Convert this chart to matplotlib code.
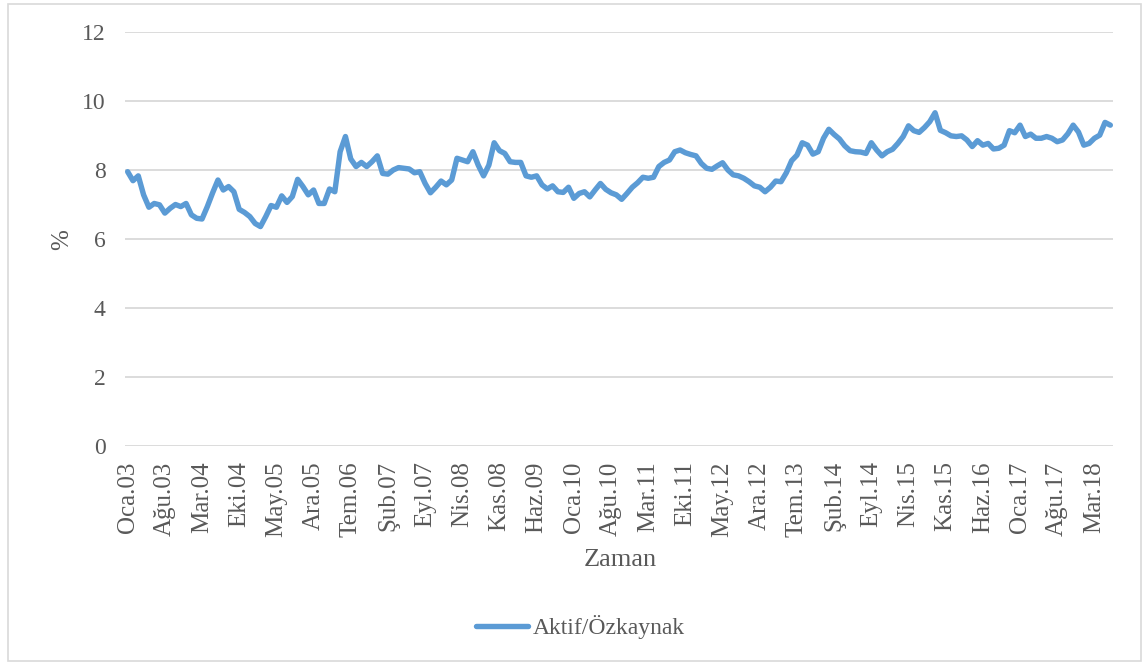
import matplotlib.pyplot as plt
from matplotlib.patches import Rectangle

# Monthly ratio, Oca.03 .. Haz.18
aylar = ["Oca", "Şub", "Mar", "Nis", "May", "Haz", "Tem", "Ağu", "Eyl", "Eki", "Kas", "Ara"]
aktif_ozkaynak = [
    7.95, 7.69, 7.83, 7.28, 6.92, 7.03, 6.99, 6.75, 6.89, 7.00, 6.94, 7.03,
    6.70, 6.60, 6.58, 6.94, 7.34, 7.71, 7.42, 7.52, 7.37, 6.86, 6.77, 6.65,
    6.45, 6.36, 6.65, 6.97, 6.92, 7.25, 7.06, 7.23, 7.73, 7.52, 7.28, 7.42,
    7.03, 7.03, 7.45, 7.37, 8.53, 8.97, 8.32, 8.10, 8.22, 8.10, 8.24, 8.41,
    7.90, 7.88, 8.00, 8.07, 8.05, 8.03, 7.92, 7.95, 7.61, 7.34, 7.50, 7.68,
    7.57, 7.71, 8.34, 8.29, 8.24, 8.53, 8.14, 7.83, 8.14, 8.79, 8.56, 8.48,
    8.24, 8.22, 8.22, 7.83, 7.79, 7.83, 7.57, 7.45, 7.54, 7.37, 7.35, 7.50,
    7.18, 7.32, 7.37, 7.22, 7.42, 7.61, 7.44, 7.34, 7.28, 7.15, 7.32, 7.50,
    7.63, 7.79, 7.76, 7.79, 8.10, 8.22, 8.29, 8.53, 8.58, 8.50, 8.45, 8.41,
    8.19, 8.05, 8.02, 8.12, 8.21, 8.00, 7.86, 7.83, 7.76, 7.66, 7.54, 7.50,
    7.37, 7.50, 7.68, 7.66, 7.92, 8.27, 8.43, 8.79, 8.72, 8.46, 8.53, 8.92,
    9.18, 9.03, 8.90, 8.70, 8.56, 8.53, 8.52, 8.48, 8.79, 8.58, 8.41, 8.53,
    8.60, 8.77, 8.97, 9.28, 9.14, 9.09, 9.23, 9.40, 9.66, 9.15, 9.08, 8.99,
    8.97, 8.99, 8.87, 8.68, 8.85, 8.72, 8.77, 8.61, 8.63, 8.72, 9.14, 9.08,
    9.30, 8.97, 9.04, 8.92, 8.92, 8.97, 8.92, 8.82, 8.87, 9.05, 9.30, 9.10,
    8.72, 8.77, 8.92, 9.01, 9.38, 9.30,
]
etiket_adimi = 7  # one label every 7 months
y_ticks = [0, 2, 4, 6, 8, 10, 12]

etiketler = [f"{aylar[i % 12]}.{(3 + i // 12):02d}" for i in range(len(aktif_ozkaynak))]
x = list(range(len(aktif_ozkaynak)))

plt.rcParams['font.family'] = ['Liberation Serif', 'DejaVu Serif']
gri = "#595959"

fig = plt.figure(figsize=(11.43, 6.64), dpi=100)
W, H = 1143, 664
ax = fig.add_axes([125 / W, (H - 446) / H, 988 / W, 414 / H])

# outer chart frame
fig.patches.append(Rectangle((8 / W, 3 / H), 1133 / W, 657 / H, transform=fig.transFigure,
                             fill=False, edgecolor="#D9D9D9", linewidth=1.2))

for y in y_ticks:
    ax.axhline(y, color="#D9D9D9", linewidth=1.3, zorder=1)

ax.plot(x, aktif_ozkaynak, color="#5B9BD5", linewidth=3.9, solid_capstyle='round',
        solid_joinstyle='round', label="Aktif/Özkaynak", zorder=3)

ax.set_xlim(-0.5, len(x) - 0.5)
ax.set_ylim(0, 12)
ax.set_yticks(y_ticks)
ax.set_xticks(x[::etiket_adimi])
ax.set_xticklabels(etiketler[::etiket_adimi], rotation=90, va='top', ha='center')
ax.tick_params(axis='both', length=0, colors=gri)
ax.tick_params(axis='y', pad=14, labelsize=17)
ax.tick_params(axis='x', pad=11, labelsize=18)
for s in ax.spines.values():
    s.set_visible(False)

ax.set_xlabel("Zaman", fontsize=19, color=gri)
ax.set_ylabel("%", fontsize=18, color=gri)
ax.xaxis.set_label_coords(0.501, -0.275)
ax.xaxis.label.set_va('center')
ax.yaxis.set_label_coords(-0.064, 0.4976)
ax.yaxis.label.set_va('center')

fig.legend(loc='center', bbox_to_anchor=(580 / W, 1 - 627 / H), frameon=False,
           fontsize=17, labelcolor=gri, handlelength=2.2, handletextpad=0.2)

fig.savefig("out.png", dpi=100)
